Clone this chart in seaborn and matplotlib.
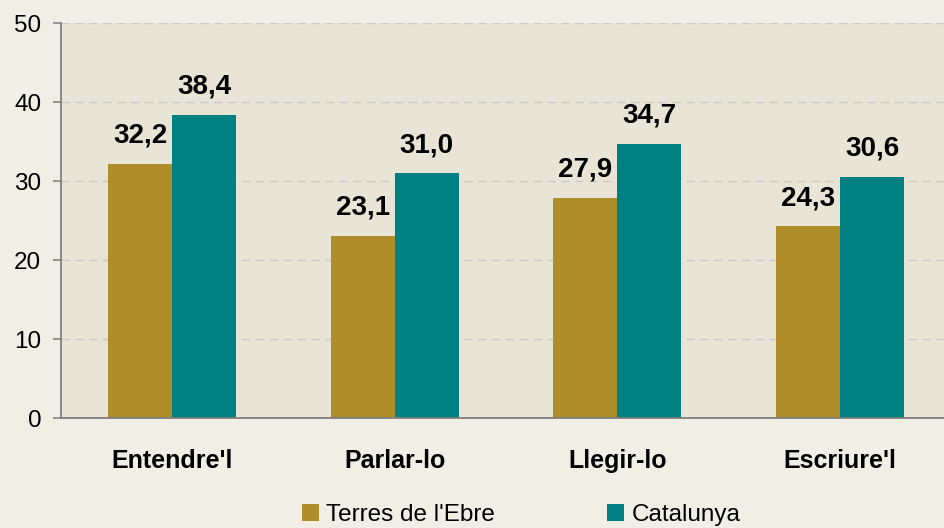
import pandas as pd
import numpy as np
import matplotlib
matplotlib.use("Agg")
import matplotlib.pyplot as plt
from matplotlib.patches import Patch
import seaborn as sns

# dades
categories = ["Entendre'l", "Parlar-lo", "Llegir-lo", "Escriure'l"]
series = ["Terres de l'Ebre", "Catalunya"]
ebre = [32.2, 23.1, 27.9, 24.3]
catalunya = [38.4, 31.0, 34.7, 30.6]
yticks = [0, 10, 20, 30, 40, 50]
title = "Coneixement de l'anglès al territori (%)"

colors = ["#AF8E2A", "#008080"]
fig_bg = "#F1EEE6"
plot_bg = "#E8E5D6"

sns.set_style("white")
plt.rcParams['font.family'] = ['Liberation Sans', 'DejaVu Sans']
plt.rcParams['text.color'] = 'black'
plt.rcParams['xtick.color'] = 'black'
plt.rcParams['ytick.color'] = 'black'

df = pd.DataFrame({
    "categoria": categories * 2,
    "serie": [series[0]] * 4 + [series[1]] * 4,
    "valor": ebre + catalunya,
})

fig = plt.figure(figsize=(9.44, 5.28), dpi=100, facecolor=fig_bg)
ax = fig.add_axes([0.0643, 0.2083, 0.9436, 0.7472])
ax.set_facecolor(plot_bg)

sns.barplot(data=df, x="categoria", y="valor", hue="serie", order=categories,
            hue_order=series, palette=colors, saturation=1, width=0.575,
            legend=False, ax=ax, errorbar=None)

for p in ax.patches:
    p.set_edgecolor("none")

# etiquetes de valor
for cont in ax.containers:
    vals = [b.get_height() for b in cont]
    ax.bar_label(cont, labels=[f"{v:.1f}".replace(".", ",") for v in vals],
                 padding=11, fontsize=20, fontweight="bold", color="black")

ax.set_ylim(0, 50)
ax.set_xlim(-0.5, 3.5)
ax.set_yticks(yticks)
ax.set_yticklabels([str(t) for t in yticks], fontsize=17.5)
ax.yaxis.grid(True, color="#C9C9C9", linestyle=(0, (6, 4)), linewidth=1)
ax.set_axisbelow(True)

ax.set_xticks(range(len(categories)))
ax.set_xticklabels(categories, fontsize=18, fontweight="bold")
ax.set_xticks([-0.5, 0.5, 1.5, 2.5, 3.5], minor=True)
ax.tick_params(axis="x", which="major", length=0, pad=22, labelcolor="black")
ax.tick_params(axis="x", which="minor", length=6, width=1.1, color="#7F7F7F", direction="out")
ax.tick_params(axis="y", length=6, width=1.1, color="#7F7F7F", direction="out", pad=8,
               left=True, labelcolor="black")
ax.set_xlabel("")
ax.set_ylabel("")

for s in ["top", "right"]:
    ax.spines[s].set_visible(False)
for s in ["left", "bottom"]:
    ax.spines[s].set_color("#7F7F7F")
    ax.spines[s].set_linewidth(1.3)

# títol (tallat a la part superior, com a l'original)
fig.text(0.765, 1 + 5 / 528, title, ha="right", va="baseline",
         fontsize=16, fontweight="bold")

handles = [Patch(facecolor=c, edgecolor="none") for c in colors]
fig.legend(handles, series, loc="center", bbox_to_anchor=(0.552, 0.025),
           ncol=2, frameon=False, fontsize=17.5, handlelength=0.7,
           handleheight=0.7, handletextpad=0.3, columnspacing=4.6)

fig.savefig("out.png", dpi=100, facecolor=fig_bg)
